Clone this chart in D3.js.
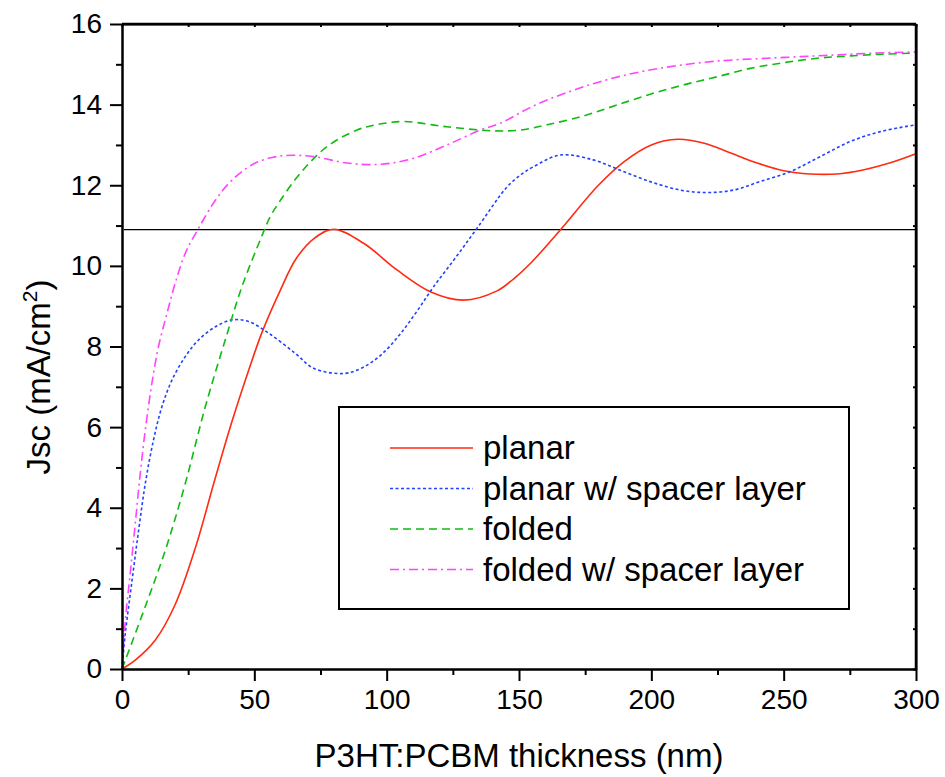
<!DOCTYPE html>
<html>
<head>
<meta charset="utf-8">
<script src="https://cdn.jsdelivr.net/npm/d3@7"></script>
<style>
  body { margin: 0; background: #fff; }
  svg text { font-family: "Liberation Sans", Arial, sans-serif; fill: #000; }
</style>
</head>
<body>
<svg id="chart"></svg>
<script>
// thickness (nm) / Jsc (mA/cm2)
var planarX = [0, 5, 12.6, 20.1, 27.7, 35.3, 41.6, 47.8, 52.9, 59.5, 66, 73, 80, 91.3, 103.9, 116.5, 129.1, 141.7, 148, 154.3, 165.6, 180, 190, 200, 210, 220, 230, 240, 250, 260, 270, 280, 290, 300];
var planarY = [0, 0.22, 0.72, 1.6, 3.0, 4.75, 6.15, 7.4, 8.35, 9.35, 10.2, 10.7, 10.91, 10.56, 9.9, 9.36, 9.15, 9.38, 9.68, 10.06, 10.89, 12.0, 12.6, 13.0, 13.14, 13.04, 12.8, 12.55, 12.36, 12.28, 12.28, 12.38, 12.55, 12.78];

var spacerX = [0, 1.25, 3.8, 6.3, 8.8, 11.9, 15.1, 18.9, 23.9, 28.9, 35.3, 41.6, 47.8, 55.4, 65.5, 72.4, 83.7, 91, 98, 105, 111.5, 117.7, 126, 134.1, 145.5, 150.5, 155.5, 165.6, 178, 188, 199.6, 211, 221, 231, 241, 252.5, 263.8, 275, 286.5, 300];
var spacerY = [0, 0.88, 2.2, 3.45, 4.6, 5.68, 6.51, 7.17, 7.75, 8.16, 8.49, 8.66, 8.62, 8.33, 7.83, 7.46, 7.33, 7.48, 7.8, 8.3, 8.88, 9.48, 10.2, 10.93, 11.96, 12.25, 12.46, 12.75, 12.63, 12.38, 12.09, 11.88, 11.82, 11.88, 12.09, 12.34, 12.71, 13.08, 13.33, 13.5];

var foldedX = [0, 8.8, 16.4, 23.9, 31.5, 39, 45.3, 52.9, 56, 59.8, 67.4, 77.5, 88.8, 96, 106.4, 122.8, 140.4, 150.5, 160.6, 174.4, 187, 199.6, 212.2, 224.8, 237.4, 250, 262.6, 275.2, 287.8, 300];
var foldedY = [0, 1.55, 2.95, 4.6, 6.51, 8.16, 9.48, 10.75, 11.22, 11.62, 12.3, 12.96, 13.37, 13.5, 13.58, 13.45, 13.35, 13.37, 13.5, 13.72, 13.99, 14.26, 14.49, 14.69, 14.9, 15.04, 15.15, 15.21, 15.25, 15.28];

var foldedSpacerX = [0, 1.25, 3.1, 5, 6.9, 8.8, 11.3, 13.8, 17, 20.1, 23.9, 28.9, 35.3, 41.6, 50.4, 60.5, 72.4, 85, 97.6, 110.2, 122.8, 135.4, 142.9, 155.5, 168.1, 180.7, 193.3, 205.9, 218.5, 231.1, 243.7, 256.3, 268.9, 281.5, 300];
var foldedSpacerY = [0, 1.2, 2.37, 3.6, 4.85, 5.93, 7.09, 8.0, 8.82, 9.57, 10.31, 10.93, 11.63, 12.13, 12.55, 12.73, 12.71, 12.55, 12.52, 12.67, 13.0, 13.37, 13.54, 13.97, 14.3, 14.57, 14.78, 14.93, 15.04, 15.11, 15.15, 15.19, 15.23, 15.27, 15.31];

var seriesNames = ["planar", "planar w/ spacer layer", "folded", "folded w/ spacer layer"];
var refLevel = 10.9;
var xTicks = [0, 50, 100, 150, 200, 250, 300];
var yTicks = [0, 2, 4, 6, 8, 10, 12, 14, 16];

var width = 945, height = 777;
var margin = {top: 24, right: 29, bottom: 108, left: 122};
var w = width - margin.left - margin.right,
    h = height - margin.top - margin.bottom;

var svg = d3.select("#chart").attr("width", width).attr("height", height);
var g = svg.append("g").attr("transform", "translate(" + margin.left + "," + margin.top + ")");

var x = d3.scaleLinear().domain([0, 300]).range([0, w]);
var y = d3.scaleLinear().domain([0, 16]).range([h, 0]);

var series = [
  {name: seriesNames[0], xs: planarX, ys: planarY, color: "#ff2a10", dash: null},
  {name: seriesNames[1], xs: spacerX, ys: spacerY, color: "#2142ff", dash: "3,2.5"},
  {name: seriesNames[2], xs: foldedX, ys: foldedY, color: "#10bb10", dash: "8,5"},
  {name: seriesNames[3], xs: foldedSpacerX, ys: foldedSpacerY, color: "#ff44ff", dash: "9,4,2,4"}
];

// horizontal reference line
g.append("line")
  .attr("x1", x(0) + 2).attr("x2", x(300))
  .attr("y1", y(refLevel)).attr("y2", y(refLevel))
  .attr("stroke", "#000").attr("stroke-width", 1.2);

var line = d3.line()
  .x(function(d) { return x(d[0]); })
  .y(function(d) { return y(d[1]); })
  .curve(d3.curveCatmullRom.alpha(0.5));

series.forEach(function(s) {
  var pts = s.xs.map(function(v, i) { return [v, s.ys[i]]; });
  g.append("path")
    .attr("d", line(pts))
    .attr("fill", "none")
    .attr("stroke", s.color)
    .attr("stroke-width", 1.6)
    .attr("stroke-dasharray", s.dash);
});

// axes
var xAxis = g.append("g")
  .attr("transform", "translate(0," + h + ")")
  .call(d3.axisBottom(x).tickValues(xTicks).tickSize(12).tickSizeOuter(0).tickPadding(8));
var xMinor = g.append("g")
  .attr("transform", "translate(0," + h + ")")
  .call(d3.axisBottom(x).tickValues(d3.range(25, 300, 50)).tickSize(6).tickSizeOuter(0).tickFormat(""));
var yAxis = g.append("g")
  .call(d3.axisLeft(y).tickValues(yTicks).tickSize(12).tickSizeOuter(0).tickPadding(8));
var yMinor = g.append("g")
  .call(d3.axisLeft(y).tickValues(d3.range(1, 16, 2)).tickSize(6).tickSizeOuter(0).tickFormat(""));
var xTop = g.append("g")
  .call(d3.axisBottom(x).tickValues(d3.range(0, 301, 25)).tickSize(3).tickSizeOuter(0).tickFormat(""));
var yRight = g.append("g")
  .attr("transform", "translate(" + w + ",0)")
  .call(d3.axisLeft(y).tickValues(d3.range(0, 17, 1)).tickSize(3).tickSizeOuter(0).tickFormat(""));

[xAxis, xMinor, yAxis, yMinor, xTop, yRight].forEach(function(a) {
  a.selectAll("path").attr("stroke", "#000").attr("stroke-width", 2);
  a.selectAll("line").attr("stroke", "#000").attr("stroke-width", 2);
});
xAxis.selectAll("text").attr("font-size", 28).attr("font-family", "Liberation Sans, Arial, sans-serif");
yAxis.selectAll("text").attr("font-size", 28).attr("font-family", "Liberation Sans, Arial, sans-serif");

// frame top/right
g.append("line").attr("x1", 0).attr("x2", w).attr("y1", 0).attr("y2", 0)
  .attr("stroke", "#000").attr("stroke-width", 2.5);
g.append("line").attr("x1", w).attr("x2", w).attr("y1", 0).attr("y2", h)
  .attr("stroke", "#000").attr("stroke-width", 2.5);

// axis titles
svg.append("text")
  .attr("x", margin.left + w / 2).attr("y", 767)
  .attr("text-anchor", "middle").attr("font-size", 33)
  .text("P3HT:PCBM thickness (nm)");

var yl = svg.append("text")
  .attr("transform", "translate(50,377) rotate(-90)")
  .attr("text-anchor", "middle").attr("font-size", 33);
yl.append("tspan").text("Jsc (mA/cm");
yl.append("tspan").attr("font-size", 21).attr("dy", -13).text("2");
yl.append("tspan").attr("dy", 13).text(")");

// legend
var legend = svg.append("g");
legend.append("rect")
  .attr("x", 339).attr("y", 407).attr("width", 510).attr("height", 202)
  .attr("fill", "#fff").attr("stroke", "#000").attr("stroke-width", 2);
series.forEach(function(s, i) {
  var ly = 448 + i * 40.5;
  legend.append("line")
    .attr("x1", 390).attr("x2", 473).attr("y1", ly).attr("y2", ly)
    .attr("stroke", s.color).attr("stroke-width", 1.6)
    .attr("stroke-dasharray", s.dash);
  legend.append("text")
    .attr("x", 483).attr("y", ly + 11)
    .attr("font-size", 33)
    .text(s.name);
});
</script>
</body>
</html>
